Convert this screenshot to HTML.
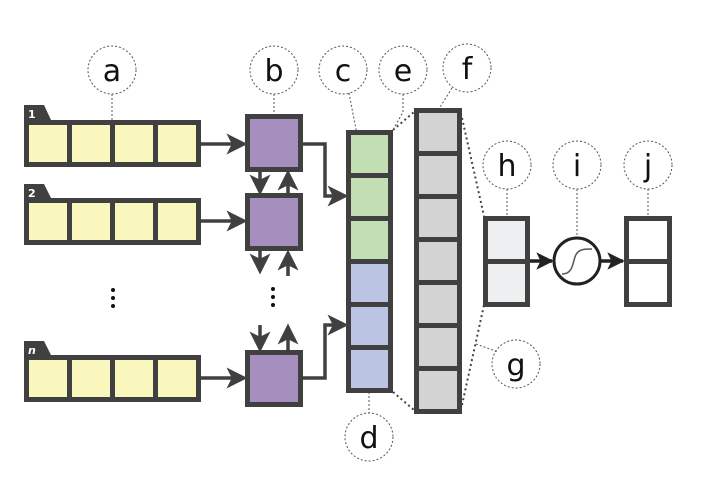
<!DOCTYPE html>
<html><head><meta charset="utf-8"><style>body{margin:0;background:#fff}svg{display:block}</style></head><body>
<svg width="707" height="491" viewBox="0 0 707 491" xmlns="http://www.w3.org/2000/svg" font-family="'DejaVu Sans','Liberation Sans',sans-serif">
<defs>
<marker id="ar" markerWidth="6" markerHeight="6" refX="5" refY="3" orient="auto" markerUnits="strokeWidth"><path d="M0,0 L6,3 L0,6 L1.5,3 z" fill="#404040"/></marker>
<marker id="ar2" markerWidth="5" markerHeight="5" refX="4.5" refY="2.5" orient="auto" markerUnits="strokeWidth"><path d="M0,0 L5,2.5 L0,5 L1.2,2.5 z" fill="#222"/></marker>
</defs>
<g stroke="#555" stroke-dasharray="2,2" stroke-width="1" fill="#fff">
<circle cx="112" cy="70" r="24"/><circle cx="274" cy="70" r="24"/><circle cx="343" cy="70" r="24"/>
<circle cx="403" cy="70" r="24"/><circle cx="467" cy="68" r="24"/><circle cx="507" cy="165" r="24"/>
<circle cx="577" cy="165" r="24"/><circle cx="648" cy="165" r="24"/><circle cx="369" cy="437" r="24"/>
<circle cx="516" cy="364" r="24"/>
<path d="M112 94V120M274 94V114M349 93L358 140M403 94V112L393 130M452 88L437 112M507 189V216M577 189V238M648 189V216M369 372V413M476 344L498 352" fill="none"/>
</g>
<g stroke="#444" stroke-width="2" stroke-dasharray="2,3" fill="none">
<path d="M393 130L414 112M393 392L414 410M462 118L484 216M462 405L484 305"/>
</g>
<g font-size="30" fill="#111" text-anchor="middle">
<text x="112" y="81">a</text><text x="274" y="81">b</text><text x="343" y="81">c</text><text x="403" y="81">e</text><text x="467" y="79">f</text><text x="507" y="176">h</text><text x="577" y="176">i</text><text x="648" y="176">j</text><text x="369" y="448">d</text><text x="516" y="375">g</text>
</g>
<!-- rows -->
<g>
<path d="M24 105H44L51 120H24z" fill="#404040"/>
<path d="M24 184H44L51 198H24z" fill="#404040"/>
<path d="M24 341H44L51 355H24z" fill="#404040"/>
<g font-size="11" font-weight="bold" fill="#fff"><text x="28" y="118">1</text><text x="28" y="197">2</text><text x="28" y="354" font-style="italic">n</text></g>
<g fill="#f9f7bd" stroke="#404040" stroke-width="5">
<rect x="26.5" y="122.5" width="43" height="42"/><rect x="69.5" y="122.5" width="43" height="42"/><rect x="112.5" y="122.5" width="43" height="42"/><rect x="155.5" y="122.5" width="43" height="42"/>
<rect x="26.5" y="200.5" width="43" height="42"/><rect x="69.5" y="200.5" width="43" height="42"/><rect x="112.5" y="200.5" width="43" height="42"/><rect x="155.5" y="200.5" width="43" height="42"/>
<rect x="26.5" y="357.5" width="43" height="42"/><rect x="69.5" y="357.5" width="43" height="42"/><rect x="112.5" y="357.5" width="43" height="42"/><rect x="155.5" y="357.5" width="43" height="42"/>
</g>
</g>
<g fill="#111"><circle cx="113" cy="290" r="2"/><circle cx="113" cy="298" r="2"/><circle cx="113" cy="306" r="2"/><circle cx="273" cy="289" r="2"/><circle cx="273" cy="297" r="2"/><circle cx="273" cy="305" r="2"/></g>
<!-- purple -->
<g fill="#a68fbe" stroke="#404040" stroke-width="5">
<rect x="247.5" y="116.5" width="53" height="53"/><rect x="247.5" y="195.5" width="53" height="53"/><rect x="247.5" y="352.5" width="53" height="52"/>
</g>
<g stroke="#404040" stroke-width="3.5" fill="none" marker-end="url(#ar)">
<path d="M200 144H244"/><path d="M200 221H244"/><path d="M200 378H244"/>
<path d="M260 172V192"/><path d="M288 193V173"/>
<path d="M260 251V271"/><path d="M288 276V253"/>
<path d="M260 325V349"/><path d="M288 352V327"/>
<path d="M303 144H325V196H345"/><path d="M303 378H325V325H345"/>
</g>
<!-- column c -->
<g stroke="#404040" stroke-width="5">
<rect x="348.5" y="132.5" width="42" height="43" fill="#c2dfb3"/><rect x="348.5" y="175.5" width="42" height="43" fill="#c2dfb3"/><rect x="348.5" y="218.5" width="42" height="43" fill="#c2dfb3"/>
<rect x="348.5" y="261.5" width="42" height="43" fill="#bbc5e3"/><rect x="348.5" y="304.5" width="42" height="43" fill="#bbc5e3"/><rect x="348.5" y="347.5" width="42" height="43" fill="#bbc5e3"/>
</g>
<!-- column f -->
<g stroke="#404040" stroke-width="5" fill="#d3d3d3">
<rect x="416.5" y="110.5" width="43" height="43"/><rect x="416.5" y="153.5" width="43" height="43"/><rect x="416.5" y="196.5" width="43" height="43"/><rect x="416.5" y="239.5" width="43" height="43"/><rect x="416.5" y="282.5" width="43" height="43"/><rect x="416.5" y="325.5" width="43" height="43"/><rect x="416.5" y="368.5" width="43" height="43"/>
</g>
<g stroke="#404040" stroke-width="5">
<rect x="485.5" y="218.5" width="42" height="43" fill="#eeeff0"/><rect x="485.5" y="261.5" width="42" height="43" fill="#eeeff0"/>
<rect x="626.5" y="218.5" width="43" height="43" fill="#fff"/><rect x="626.5" y="261.5" width="43" height="43" fill="#fff"/>
</g>
<circle cx="577" cy="261" r="23" fill="#fff" stroke="#222" stroke-width="3"/>
<path d="M562 274C575 274 572 259 577 253C580 249 586 249 592 249" stroke="#555" stroke-width="1.5" fill="none"/>
<g stroke="#222" stroke-width="3.5" marker-end="url(#ar2)"><path d="M530 261H552"/><path d="M600 261H623"/></g>
</svg>
</body></html>
